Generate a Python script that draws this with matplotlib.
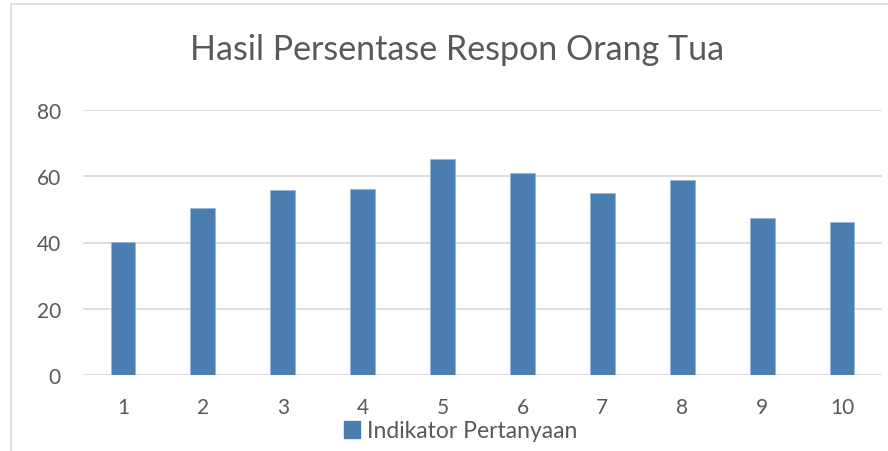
import matplotlib
matplotlib.use("Agg")
import matplotlib.pyplot as plt
from matplotlib.patches import Rectangle, Patch

# data
indikator = ["1", "2", "3", "4", "5", "6", "7", "8", "9", "10"]
persentase = [40.3, 50.3, 55.8, 56.3, 65.3, 60.9, 54.8, 58.8, 47.4, 46.3]
y_ticks = [0, 20, 40, 60, 80]
title = "Hasil Persentase Respon Orang Tua"
series_name = "Indikator Pertanyaan"

text_color = "#595959"
grid_color = "#d9d9d9"
bar_color = "#4a7eb0"

plt.rcParams["font.family"] = ["Lato", "DejaVu Sans"]

W, H = 888, 452
fig = plt.figure(figsize=(W / 100, H / 100), dpi=100)
ax = fig.add_axes([83 / W, 1 - 376 / H, (882 - 83) / W, (376 - 111) / H])

x = list(range(len(indikator)))
ax.bar(x, persentase, width=0.31, color=bar_color, edgecolor="#9ab8da",
       linewidth=0.6, zorder=3)

ax.set_xlim(-0.5, len(indikator) - 0.5)
ax.set_ylim(0, 80)
ax.set_yticks(y_ticks)
ax.set_xticks(x)
ax.set_xticklabels(indikator)
ax.yaxis.grid(True, color=grid_color, lw=1.2, zorder=0)
ax.set_axisbelow(True)
for side in ["top", "right", "left", "bottom"]:
    ax.spines[side].set_visible(False)
ax.tick_params(axis="both", length=0, colors=text_color, labelsize=15)
ax.tick_params(axis="y", pad=16)
ax.tick_params(axis="x", pad=16)

fig.text(457 / W, 1 - 60 / H, title, ha="center", va="baseline",
         fontsize=24.5, color=text_color)

handle = Patch(facecolor=bar_color, edgecolor=bar_color)
fig.legend([handle], [series_name], loc="center", bbox_to_anchor=(461 / W, 1 - 432 / H),
           frameon=False, fontsize=16.5, labelcolor=text_color,
           handlelength=0.7, handleheight=0.7, handletextpad=0.3,
           borderpad=0, borderaxespad=0)

# chart area border (partly cropped in the reference)
fig.patches.append(Rectangle((11 / W, -0.1), 1.2, 1.1 - 5 / H, transform=fig.transFigure,
                             fill=False, edgecolor=grid_color, lw=1.2))

fig.savefig("out.png", dpi=100)
